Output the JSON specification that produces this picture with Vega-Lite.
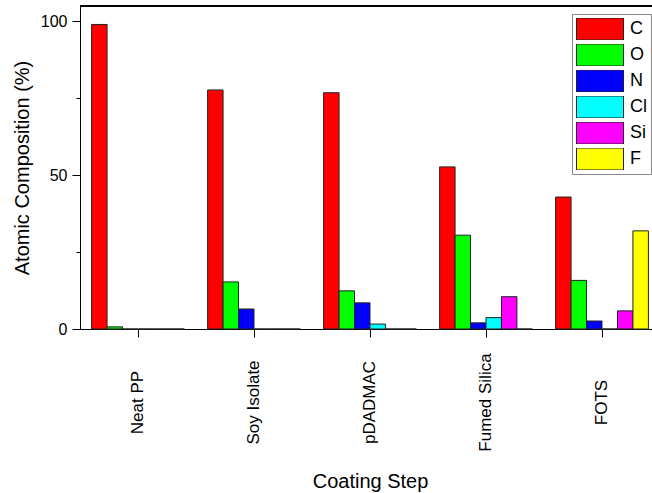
{
  "$schema": "https://vega.github.io/schema/vega-lite/v6.json",
  "width": 572,
  "height": 323,
  "autosize": {"type": "none"},
  "padding": {"left": 80, "top": 6, "right": 0, "bottom": 164},
  "config": {
    "font": "Liberation Sans",
    "view": {"stroke": null},
    "axis": {"domainColor": "#000", "tickColor": "#000", "labelColor": "#000", "titleColor": "#000", "titleFontWeight": "normal", "grid": false, "domainWidth": 1, "tickWidth": 1}
  },
  "data": {
    "values": [
      {"step": "Neat PP", "element": "C", "value": 99.0},
      {"step": "Neat PP", "element": "O", "value": 0.7},
      {"step": "Neat PP", "element": "N", "value": 0},
      {"step": "Neat PP", "element": "Cl", "value": 0},
      {"step": "Neat PP", "element": "Si", "value": 0},
      {"step": "Neat PP", "element": "F", "value": 0},
      {"step": "Soy Isolate", "element": "C", "value": 77.7},
      {"step": "Soy Isolate", "element": "O", "value": 15.3},
      {"step": "Soy Isolate", "element": "N", "value": 6.5},
      {"step": "Soy Isolate", "element": "Cl", "value": 0},
      {"step": "Soy Isolate", "element": "Si", "value": 0},
      {"step": "Soy Isolate", "element": "F", "value": 0},
      {"step": "pDADMAC", "element": "C", "value": 76.8},
      {"step": "pDADMAC", "element": "O", "value": 12.4},
      {"step": "pDADMAC", "element": "N", "value": 8.5},
      {"step": "pDADMAC", "element": "Cl", "value": 1.6},
      {"step": "pDADMAC", "element": "Si", "value": 0},
      {"step": "pDADMAC", "element": "F", "value": 0},
      {"step": "Fumed Silica", "element": "C", "value": 52.7},
      {"step": "Fumed Silica", "element": "O", "value": 30.5},
      {"step": "Fumed Silica", "element": "N", "value": 2.0},
      {"step": "Fumed Silica", "element": "Cl", "value": 3.7},
      {"step": "Fumed Silica", "element": "Si", "value": 10.5},
      {"step": "Fumed Silica", "element": "F", "value": 0},
      {"step": "FOTS", "element": "C", "value": 42.9},
      {"step": "FOTS", "element": "O", "value": 15.8},
      {"step": "FOTS", "element": "N", "value": 2.6},
      {"step": "FOTS", "element": "Cl", "value": 0},
      {"step": "FOTS", "element": "Si", "value": 5.9},
      {"step": "FOTS", "element": "F", "value": 31.9}
    ]
  },
  "layer": [
    {
      "mark": {"type": "bar", "stroke": "#222", "strokeWidth": 1},
      "encoding": {
        "x": {
          "field": "step", "type": "nominal",
          "sort": ["Neat PP", "Soy Isolate", "pDADMAC", "Fumed Silica", "FOTS"],
          "scale": {"range": [0, 580], "paddingInner": 0.2, "paddingOuter": 0.1},
          "axis": {"title": "Coating Step", "labelAngle": 270, "labelAlign": "center", "labelBaseline": "middle", "labelPadding": 65, "tickSize": 8, "labelFontSize": 17, "titleFontSize": 20, "titlePadding": 20}
        },
        "xOffset": {
          "field": "element", "type": "nominal",
          "sort": ["C", "O", "N", "Cl", "Si", "F"],
          "scale": {"paddingInner": 0, "paddingOuter": 0}
        },
        "y": {
          "field": "value", "type": "quantitative",
          "scale": {"domain": [0, 105], "nice": false, "zero": true},
          "axis": {
            "title": "Atomic Composition (%)",
            "values": [0, 25, 50, 75, 100],
            "labelExpr": "datum.value % 50 == 0 ? datum.label : ''",
            "tickSize": {"condition": {"test": "datum.value % 50 != 0", "value": 4}, "value": 8},
            "labelPadding": 5,
            "labelFontSize": 16,
            "titleFontSize": 20,
            "titlePadding": 8
          }
        },
        "color": {
          "field": "element", "type": "nominal",
          "sort": ["C", "O", "N", "Cl", "Si", "F"],
          "scale": {"domain": ["C", "O", "N", "Cl", "Si", "F"], "range": ["#ff0000", "#00ff00", "#0000ff", "#00ffff", "#ff00ff", "#ffff00"]},
          "legend": {
            "title": null,
            "orient": "none",
            "legendX": 492,
            "legendY": 8,
            "symbolType": "M-1,-0.468H1V0.468H-1Z",
            "symbolSize": 2209,
            "clipHeight": 22,
            "rowPadding": 4,
            "padding": 4,
            "strokeColor": "#888",
            "fillColor": "white",
            "labelFontSize": 18,
            "labelOffset": 6,
            "labelColor": "#000",
            "symbolStrokeColor": "#222",
            "symbolStrokeWidth": 1,
            "symbolOpacity": 1
          }
        }
      }
    },
    {
      "mark": {"type": "rule", "color": "#000", "strokeWidth": 1},
      "encoding": {"y": {"datum": 105}}
    }
  ]
}
